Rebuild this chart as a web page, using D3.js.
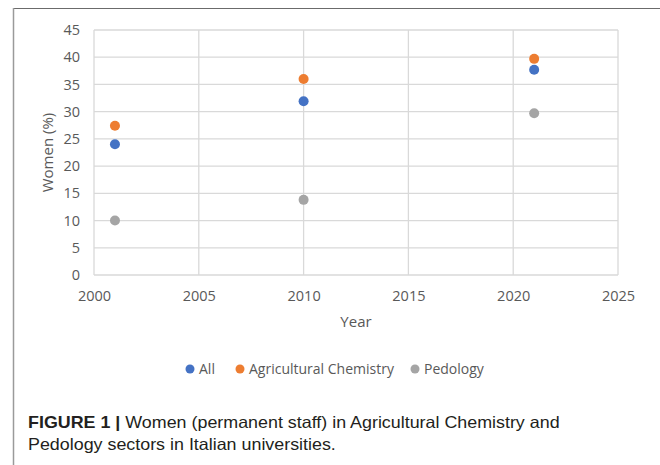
<!DOCTYPE html>
<html>
<head>
<meta charset="utf-8">
<script src="https://cdn.jsdelivr.net/npm/d3@7"></script>
<style>
  body { margin: 0; background: #fff; }
  svg { display: block; }
  .tick text { font-family: "Open Sans", sans-serif; font-size: 14.5px; fill: #595959; }
  .caption { font-family: "Liberation Sans", Arial, sans-serif; font-size: 16.3px; fill: #231f20; }
</style>
</head>
<body>
<svg width="660" height="465"></svg>
<script>
const years = [2001, 2010, 2021];
const seriesNames = ["All", "Agricultural Chemistry", "Pedology"];
const allValues = [24.0, 31.9, 37.7];
const agriChemValues = [27.4, 36.0, 39.7];
const pedologyValues = [10.0, 13.8, 29.7];
const xTicks = [2000, 2005, 2010, 2015, 2020, 2025];
const yTicks = [0, 5, 10, 15, 20, 25, 30, 35, 40, 45];

const colors = ["#4472c4", "#ed7d31", "#a5a5a5"];
const seriesValues = [allValues, agriChemValues, pedologyValues];

var svg = d3.select("svg");

const plotLeft = 94, plotRight = 618, plotTop = 30, plotBottom = 275;

var x = d3.scaleLinear().domain([2000, 2025]).range([plotLeft, plotRight]);
var y = d3.scaleLinear().domain([0, 45]).range([plotBottom, plotTop]);

// outer frame (top and left edges only visible)
svg.append("line")
    .attr("x1", 13).attr("x2", 660).attr("y1", 8.5).attr("y2", 8.5)
    .attr("stroke", "#6b6b6b").attr("stroke-width", 1.2);
svg.append("line")
    .attr("x1", 13.5).attr("x2", 13.5).attr("y1", 8).attr("y2", 465)
    .attr("stroke", "#9a9a9a").attr("stroke-width", 1.5);

// gridlines
var grid = svg.append("g").attr("stroke", "#d9d9d9").attr("stroke-width", 1.3);
grid.selectAll("line.h").data(yTicks).join("line")
    .attr("class", "h")
    .attr("x1", plotLeft).attr("x2", plotRight)
    .attr("y1", d => y(d)).attr("y2", d => y(d));
grid.selectAll("line.v").data(xTicks).join("line")
    .attr("class", "v")
    .attr("y1", plotTop).attr("y2", plotBottom)
    .attr("x1", d => x(d)).attr("x2", d => x(d));

// axes (labels only)
var xAxis = d3.axisBottom(x).tickValues(xTicks).tickFormat(d3.format("d")).tickSize(0).tickPadding(15.5);
var yAxis = d3.axisLeft(y).tickValues(yTicks).tickSize(0).tickPadding(14);

svg.append("g").attr("transform", `translate(0,${plotBottom})`).call(xAxis)
    .call(g => g.select(".domain").remove());
svg.append("g").attr("transform", `translate(${plotLeft},0)`).call(yAxis)
    .call(g => g.select(".domain").remove());

// axis titles
svg.append("text")
    .attr("x", (plotLeft + plotRight) / 2).attr("y", 327)
    .attr("text-anchor", "middle")
    .attr("font-family", "Open Sans, sans-serif").attr("font-size", 15)
    .attr("fill", "#595959")
    .text("Year");
svg.append("text")
    .attr("transform", `translate(53,${(plotTop + plotBottom) / 2}) rotate(-90)`)
    .attr("text-anchor", "middle")
    .attr("font-family", "Open Sans, sans-serif").attr("font-size", 15)
    .attr("fill", "#595959")
    .text("Women (%)");

// points
seriesValues.forEach((vals, i) => {
    svg.append("g").selectAll("circle").data(vals).join("circle")
        .attr("cx", (d, j) => x(years[j]))
        .attr("cy", d => y(d))
        .attr("r", 5)
        .attr("fill", colors[i]);
});

// legend
const legendX = [190, 240, 415];
var legend = svg.append("g");
seriesNames.forEach((name, i) => {
    legend.append("circle")
        .attr("cx", legendX[i]).attr("cy", 369).attr("r", 4.5)
        .attr("fill", colors[i]);
    legend.append("text")
        .attr("x", legendX[i] + 9).attr("y", 374)
        .attr("font-family", "Open Sans, sans-serif").attr("font-size", 14)
        .attr("fill", "#595959")
        .text(name);
});

// caption
var caption = svg.append("g").attr("transform", "translate(28,0) scale(1.097,1)");
var cap1 = caption.append("text").attr("class", "caption").attr("x", 0).attr("y", 428);
cap1.append("tspan").attr("font-weight", "bold").text("FIGURE 1 |");
cap1.append("tspan").text(" Women (permanent staff) in Agricultural Chemistry and");
caption.append("text").attr("class", "caption").attr("x", 0).attr("y", 450)
    .text("Pedology sectors in Italian universities.");
</script>
</body>
</html>
